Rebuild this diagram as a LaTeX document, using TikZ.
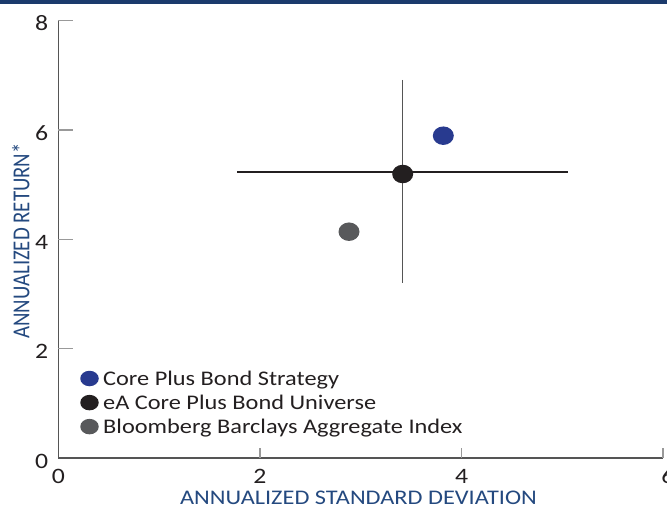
\documentclass[tikz,border=0pt]{standalone}
\usepackage{fontspec}
\setmainfont{Carlito}
\usetikzlibrary{shapes.geometric}
\definecolor{barblue}{HTML}{1B3A6C}
\definecolor{titleblue}{HTML}{24497F}
\definecolor{dotblue}{HTML}{283A8F}
\definecolor{dotblack}{HTML}{231F20}
\definecolor{dotgray}{HTML}{58595B}
\definecolor{axisgray}{HTML}{555555}
\definecolor{tickgray}{HTML}{999999}
\definecolor{labelcol}{HTML}{231F20}
\newcommand{\hst}[1]{\scalebox{1.17}[1]{#1}}
\newcommand{\vst}[1]{\scalebox{1}[1.17]{#1}}
\tikzset{
  axisline/.style={draw=axisgray, line width=1.2pt},
  tickline/.style={draw=tickgray, line width=1.2pt},
  ticklabel/.style={text=labelcol, font=\fontsize{22}{22}\selectfont, inner sep=0pt},
  axistitle/.style={text=titleblue, font=\fontsize{20.8}{20.8}\selectfont, inner sep=0pt},
  datadot/.style={ellipse, minimum width=21pt, minimum height=18.5pt, inner sep=0pt},
  legdot/.style={ellipse, minimum width=18.5pt, minimum height=15.5pt, inner sep=0pt},
  legtext/.style={anchor=base west, text=labelcol, font=\fontsize{20.8}{20.8}\selectfont, inner sep=0pt},
  errbar/.style={line width=1.1pt}
}
\begin{document}
\begin{tikzpicture}[x=1pt,y=-1pt]
\useasboundingbox (0,0) rectangle (667,505);
\fill[barblue] (0,0) rectangle (667,4.5);
% axes
\coordinate (o) at (58.3,458);
\coordinate (ytop) at (58.3,20.7);
\coordinate (xend) at (663,458);
\draw[axisline] (ytop) -- (o) -- (xend);
% y ticks and labels
\foreach \y in {348.7,239.4,130.1,20.7}{
  \draw[tickline] (58.3,\y) -- (73.3,\y);
}
\foreach \k/\y in {0/468,2/358.7,4/249.4,6/140.1,8/30.7}{
  \node[ticklabel, anchor=base east] (yl\k) at (48.3,\y) {\hst{\k}};
}
% x ticks and labels
\foreach \x in {260,461.6,663}{
  \draw[tickline] (\x,458) -- (\x,448);
}
\foreach \k/\x in {0/58.3,2/260,4/461.6,6/668}{
  \node[ticklabel, anchor=base] (xl\k) at (\x,483.3) {\hst{\k}};
}
% axis titles
\node[axistitle] (xt) at (358.5,497.6) {\hst{ANNUALIZED STANDARD DEVIATION}};
\node[axistitle, rotate=90] (yt) at (20.8,241) {\vst{ANNUALIZED RETURN*}};
% error bars
\coordinate (hl) at (237,172);
\coordinate (hr) at (568,172);
\coordinate (vt) at (402.7,80);
\coordinate (vb) at (402.7,283);
\draw[errbar, draw=dotblack] (hl) -- (hr);
\draw[errbar, draw=axisgray] (vt) -- (vb);
% data points
\node[datadot, fill=dotblack] (univ) at (402.7,174) {};
\node[datadot, fill=dotblue] (strat) at (443.3,135.7) {};
\node[datadot, fill=dotgray] (index) at (349,231.7) {};
% legend
\node[legdot, fill=dotblue] (ld1) at (89.5,378.5) {};
\node[legdot, fill=dotblack] (ld2) at (89.5,402.6) {};
\node[legdot, fill=dotgray] (ld3) at (89.5,426.6) {};
\node[legtext] (lt1) at (103,385.7) {\hst{Core Plus Bond Strategy}};
\node[legtext] (lt2) at (103,409.8) {\hst{eA Core Plus Bond Universe}};
\node[legtext] (lt3) at (103,433.8) {\hst{Bloomberg Barclays Aggregate Index}};
\end{tikzpicture}
\end{document}
